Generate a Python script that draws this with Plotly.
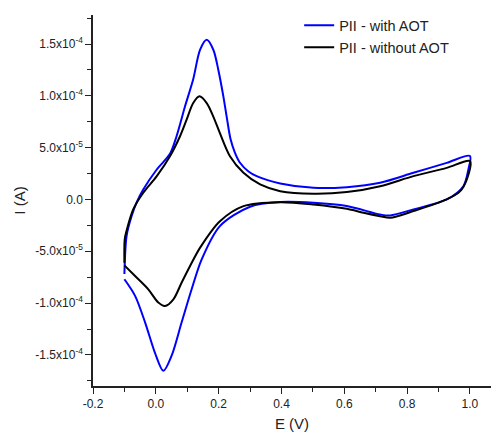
import plotly.graph_objects as go

# Blue: PII - with AOT (current in 1e-6 A)
E_blue = [-0.1, -0.093, -0.077, -0.06, -0.04, 0.003, 0.045, 0.066, 0.093, 0.119, 0.141, 0.162, 0.183, 0.199, 0.215, 0.226, 0.238, 0.252, 0.268, 0.295, 0.321, 0.396, 0.502, 0.608, 0.714, 0.82, 0.926, 1.0,
          0.995, 0.979, 0.926, 0.82, 0.746, 0.714, 0.608, 0.502, 0.396, 0.3, 0.204, 0.146, 0.114, 0.082, 0.05, 0.024, -0.003, -0.034, -0.066, -0.1]
I_blue = [-72, -35, -16, -2, 9.6, 28.9, 44, 61, 89.9, 116, 144.5, 154, 144.5, 125, 99.5, 79, 58, 45, 35.4, 27, 22.5, 15.4, 11.2, 11.9, 16.1, 25.7, 35.3, 42,
          29, 12.8, 0, -9.6, -15.4, -14.5, -6.4, -3.2, -2.5, -7, -25.7, -57.8, -86.7, -118.8, -151, -165.4, -147.7, -118.8, -93, -77]

# Black: PII - without AOT (current in 1e-6 A)
E_black = [-0.1, -0.099, -0.093, -0.072, -0.04, 0.003, 0.045, 0.077, 0.098, 0.119, 0.139, 0.162, 0.183, 0.204, 0.236, 0.279, 0.332, 0.396, 0.502, 0.608, 0.714, 0.82, 0.926, 1.0,
           0.99, 0.969, 0.926, 0.82, 0.746, 0.714, 0.661, 0.608, 0.502, 0.396, 0.279, 0.204, 0.141, 0.109, 0.082, 0.056, 0.029, 0.008, -0.024, -0.066, -0.1]
I_black = [-61, -38.5, -30, -9.6, 6.5, 22.5, 41.7, 61, 77, 93, 99.5, 93, 80, 64, 41.7, 25.7, 14.5, 8.0, 5.5, 7.1, 12.8, 22.5, 30.5, 37,
           19.3, 8, 0, -11.2, -17.7, -16.1, -12.8, -9.0, -4.8, -2.6, -6.4, -21, -46.5, -64.2, -80.3, -96.3, -102.8, -99.5, -86.7, -73.9, -63.6]

y_tickvals = [-1.5e-4, -1.0e-4, -5.0e-5, 0.0, 5.0e-5, 1.0e-4, 1.5e-4]
y_ticktext = ["-1.5x10<sup>-4</sup>", "-1.0x10<sup>-4</sup>", "-5.0x10<sup>-5</sup>", "0.0",
              "5.0x10<sup>-5</sup>", "1.0x10<sup>-4</sup>", "1.5x10<sup>-4</sup>"]
x_tickvals = [-0.2, 0.0, 0.2, 0.4, 0.6, 0.8, 1.0]
x_ticktext = ["-0.2", "0.0", "0.2", "0.4", "0.6", "0.8", "1.0"]

fig = go.Figure()
fig.add_trace(go.Scatter(x=E_blue, y=[v * 1e-6 for v in I_blue], mode="lines",
                         line=dict(color="#0000ff", width=2, shape="spline", smoothing=0.85),
                         name="PII - with AOT"))
fig.add_trace(go.Scatter(x=E_black, y=[v * 1e-6 for v in I_black], mode="lines",
                         line=dict(color="#000000", width=2, shape="spline", smoothing=0.85),
                         name="PII - without AOT"))

font = dict(family="Liberation Sans, Arial, sans-serif", color="#222222")
fig.update_layout(
    width=491, height=440,
    margin=dict(l=93, r=0, t=15, b=54),
    paper_bgcolor="white", plot_bgcolor="white",
    font=dict(**font, size=12),
    showlegend=True,
    legend=dict(x=0.518, y=1.015, xanchor="left", yanchor="top", bgcolor="rgba(0,0,0,0)",
                font=dict(**font, size=14.5), tracegroupgap=0, itemwidth=30),
)
fig.update_xaxes(range=[-0.2, 1.067], tickvals=x_tickvals, ticktext=x_ticktext, automargin=False,
                 showline=True, linecolor="#222222", linewidth=1.5, mirror=False,
                 ticks="outside", ticklen=6, tickwidth=1.2, tickcolor="#222222",
                 minor=dict(dtick=0.1, tick0=-0.2, ticks="outside", ticklen=4, tickcolor="#222222", tickwidth=1.2),
                 showgrid=False, zeroline=False,
                 title=dict(text="E (V)", font=dict(**font, size=15), standoff=8),
                 tickfont=dict(**font, size=12))
fig.update_yaxes(range=[-1.8e-4, 1.78e-4], tickvals=y_tickvals, ticktext=y_ticktext, automargin=False,
                 showline=True, linecolor="#222222", linewidth=1.5, mirror=False,
                 ticks="outside", ticklen=6, tickwidth=1.2, tickcolor="#222222",
                 minor=dict(tickvals=[-1.75e-4, -1.25e-4, -7.5e-5, -2.5e-5, 2.5e-5, 7.5e-5, 1.25e-4, 1.75e-4],
                            ticks="outside", ticklen=4, tickcolor="#222222", tickwidth=1.2),
                 showgrid=False, zeroline=False,
                 title=dict(text="I (A)", font=dict(**font, size=15), standoff=6),
                 tickfont=dict(**font, size=12))

fig.write_html("out.html", config={"displayModeBar": False},
               post_script="document.body.style.margin='0';document.body.style.overflow='hidden';")
